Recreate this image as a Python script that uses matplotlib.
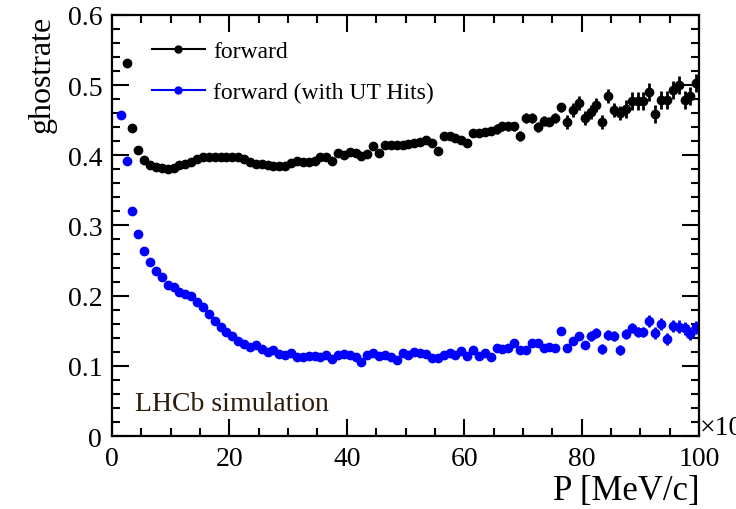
import matplotlib.pyplot as plt
from matplotlib.ticker import MultipleLocator
from matplotlib.lines import Line2D

plt.rcParams['font.family'] = ['Liberation Serif', 'DejaVu Serif']

# ghost rate vs momentum, bins of width 1
p_fwd = [i + 0.5 for i in range(2, 100)]
rate_fwd = [0.532, 0.439, 0.408, 0.393, 0.386, 0.383, 0.382, 0.381, 0.382, 0.386,
            0.387, 0.391, 0.394, 0.397, 0.398, 0.398, 0.398, 0.397, 0.397, 0.397,
            0.394, 0.390, 0.388, 0.387, 0.386, 0.384, 0.384, 0.384, 0.389, 0.392,
            0.391, 0.391, 0.392, 0.397, 0.398, 0.392, 0.403, 0.400, 0.405, 0.403,
            0.399, 0.402, 0.413, 0.403, 0.415, 0.415, 0.415, 0.414, 0.416, 0.418,
            0.419, 0.421, 0.418, 0.406, 0.427, 0.428, 0.424, 0.422, 0.418, 0.432,
            0.432, 0.433, 0.435, 0.437, 0.441, 0.441, 0.441, 0.427, 0.453, 0.453,
            0.440, 0.449, 0.448, 0.453, 0.468, 0.448, 0.464, 0.475, 0.453, 0.461,
            0.472, 0.448, 0.485, 0.465, 0.460, 0.466, 0.477, 0.477, 0.477, 0.490,
            0.459, 0.479, 0.479, 0.493, 0.500, 0.479, 0.484, 0.503]
err_fwd = [0.002] * 28 + [0.003] * 20 + [0.005] * 15 + [0.007] * 12 + [0.010] * 10 + [0.013] * 13

p_ut = [i + 0.5 for i in range(1, 100)]
rate_ut = [0.457, 0.392, 0.320, 0.288, 0.264, 0.248, 0.235, 0.226, 0.215, 0.213,
           0.205, 0.203, 0.199, 0.191, 0.184, 0.174, 0.164, 0.156, 0.148, 0.143,
           0.135, 0.131, 0.127, 0.129, 0.124, 0.120, 0.123, 0.117, 0.115, 0.119,
           0.113, 0.113, 0.1145, 0.1135, 0.112, 0.1155, 0.110, 0.1155, 0.117, 0.116,
           0.113, 0.106, 0.116, 0.118, 0.1145, 0.116, 0.113, 0.108, 0.118, 0.116,
           0.120, 0.118, 0.117, 0.111, 0.111, 0.115, 0.119, 0.116, 0.121, 0.1145,
           0.1225, 0.1145, 0.118, 0.112, 0.125, 0.124, 0.125, 0.1325, 0.123, 0.123,
           0.132, 0.1325, 0.125, 0.1265, 0.125, 0.1496, 0.1254, 0.135, 0.142, 0.129,
           0.142, 0.147, 0.124, 0.144, 0.142, 0.1226, 0.1454, 0.1535, 0.1477, 0.1487,
           0.164, 0.147, 0.1596, 0.138, 0.157, 0.156, 0.1535, 0.146, 0.155]
err_ut = [0.002] * 50 + [0.003] * 15 + [0.005] * 15 + [0.007] * 10 + [0.009] * 9

fig = plt.figure(figsize=(7.36, 5.10), dpi=100)
ax = fig.add_axes([0.152, 0.143, 0.798, 0.826])

ax.errorbar(p_fwd, rate_fwd, yerr=err_fwd, fmt='o', color='black', ms=6,
            elinewidth=2, capsize=0)
ax.errorbar(p_ut, rate_ut, yerr=err_ut, fmt='o', color='#0000ff', ms=6,
            elinewidth=2, capsize=0)

ax.set_xlim(0, 100)
ax.set_ylim(0, 0.6)
ax.xaxis.set_major_locator(MultipleLocator(20))
ax.xaxis.set_minor_locator(MultipleLocator(5))
ax.yaxis.set_major_locator(MultipleLocator(0.1))
ax.yaxis.set_minor_locator(MultipleLocator(0.02))
ax.yaxis.set_major_formatter(plt.FuncFormatter(lambda v, _: '0' if v == 0 else f'{v:.1f}'))
ax.tick_params(which='both', direction='in', top=True, right=True, labelsize=20, width=1.5)
ax.tick_params(which='major', length=12, pad=7)
ax.tick_params(which='minor', length=6)
for s in ax.spines.values():
    s.set_linewidth(1.6)

ax.set_ylabel('ghostrate', fontsize=23, loc='top', labelpad=8)
ax.set_xlabel('P [MeV/c]', fontsize=25, loc='right', labelpad=2)

handles = [Line2D([], [], color='black', marker='o', ms=5, lw=1.5),
           Line2D([], [], color='#0000ff', marker='o', ms=5, lw=1.5)]
ax.legend(handles, ['forward', 'forward (with UT Hits)'], loc='upper left',
          bbox_to_anchor=(0.032, 0.99), frameon=False, fontsize=17,
          handlelength=2.25, labelspacing=0.85, handletextpad=0.35)

ax.text(0.04, 0.063, 'LHCb simulation', transform=ax.transAxes, fontsize=20, color='#2a1a0a')
fig.text(0.951, 0.148, '×10', fontsize=20)

plt.savefig('out.png', dpi=100)
